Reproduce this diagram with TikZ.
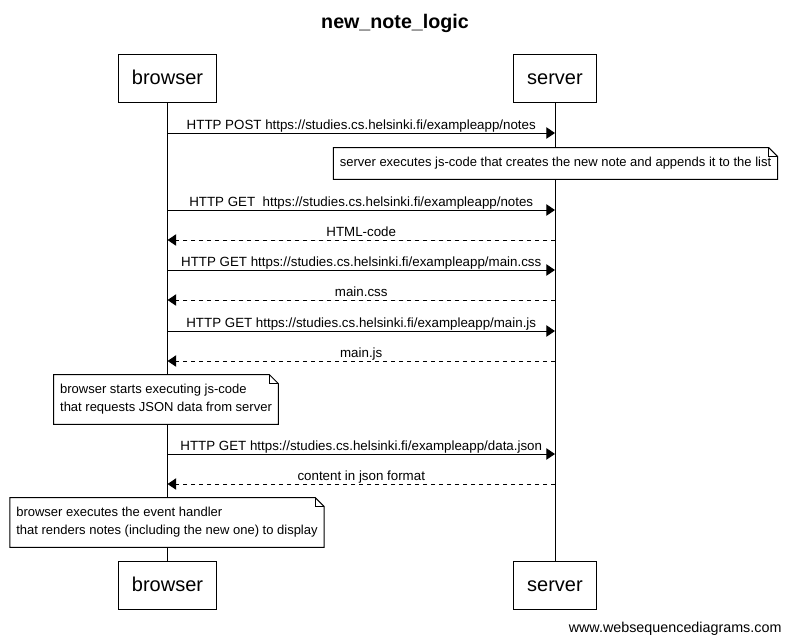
\documentclass[tikz,border=0pt]{standalone}
\usepackage{fontspec}
\setmainfont{Liberation Sans}
\usetikzlibrary{arrows.meta}

\newcommand{\foldnote}[1]{%
\draw (#1.north west) -- ([shift={(-9,0)}]#1.north east) -- ([shift={(0,9)}]#1.north east) -- (#1.south east) -- (#1.south west) -- cycle ;
\draw ([shift={(-9,0)}]#1.north east) |- ([shift={(0,9)}]#1.north east) ;}

\begin{document}
\begin{tikzpicture}[x=0.75pt,y=0.75pt,yscale=-1,xscale=1,line width=0.75pt,
  actor/.style={draw, fill=white, minimum height=36pt, inner xsep=10pt, text height=12pt, text depth=2pt, font=\fontsize{15}{18}\selectfont},
  msg/.style={-{Triangle[length=6.5pt,width=8.5pt]}},
  reply/.style={msg, dash pattern=on 3pt off 3pt},
  lbl/.style={anchor=south, inner xsep=0pt, inner ysep=2.6pt, text depth=0pt, font=\fontsize{10}{12}\selectfont},
  note/.style={fill=white, align=left, inner xsep=4.5pt, inner ysep=7pt, font=\fontsize{9.75}{13.5}\selectfont}]
\useasboundingbox (0,0) rectangle (790,643);

% Text Node
\node[font=\bfseries\fontsize{14.75}{17}\selectfont] (title) at (395,23) {new\_note\_logic};

%Actors
\node[actor] (browserTop) at (167.5,78) {browser};
\node[actor] (serverTop) at (555,78) {server};
\node[actor] (browserBot) at (167.5,585) {browser};
\node[actor] (serverBot) at (555,585) {server};

%Lifelines
\draw (browserTop) -- (browserBot) ;
\draw (serverTop) -- (serverBot) ;

%Message ends
\coordinate (b1) at (167.5,133); \coordinate (s1) at (555,133);
\coordinate (b2) at (167.5,210); \coordinate (s2) at (555,210);
\coordinate (b3) at (167.5,240); \coordinate (s3) at (555,240);
\coordinate (b4) at (167.5,270); \coordinate (s4) at (555,270);
\coordinate (b5) at (167.5,300); \coordinate (s5) at (555,300);
\coordinate (b6) at (167.5,331); \coordinate (s6) at (555,331);
\coordinate (b7) at (167.5,361); \coordinate (s7) at (555,361);
\coordinate (b8) at (167.5,454); \coordinate (s8) at (555,454);
\coordinate (b9) at (167.5,484); \coordinate (s9) at (555,484);

%Straight Lines
\draw[msg] (b1) -- node[lbl] {HTTP POST https://studies.cs.helsinki.fi/exampleapp/notes} (s1) ;

%Shape: Note
\node[note] (createNote) at (555.5,163.5) {server executes js-code that creates the new note and appends it to the list};
\foldnote{createNote}

%Straight Lines
\draw[msg] (b2) -- node[lbl] {HTTP GET\ \ https://studies.cs.helsinki.fi/exampleapp/notes} (s2) ;
\draw[reply] (s3) -- node[lbl] {HTML-code} (b3) ;
\draw[msg] (b4) -- node[lbl] {HTTP GET https://studies.cs.helsinki.fi/exampleapp/main.css} (s4) ;
\draw[reply] (s5) -- node[lbl] {main.css} (b5) ;
\draw[msg] (b6) -- node[lbl] {HTTP GET https://studies.cs.helsinki.fi/exampleapp/main.js} (s6) ;
\draw[reply] (s7) -- node[lbl] {main.js} (b7) ;

%Shape: Note
\node[note] (jsNote) at (166,399.5) {browser starts executing js-code\\that requests JSON data from server};
\foldnote{jsNote}

%Straight Lines
\draw[msg] (b8) -- node[lbl] {HTTP GET https://studies.cs.helsinki.fi/exampleapp/data.json} (s8) ;
\draw[reply] (s9) -- node[lbl] {content in json format} (b9) ;

%Shape: Note
\node[note] (renderNote) at (167,522.5) {browser executes the event handler\\that renders notes (including the new one) to display};
\foldnote{renderNote}

% Text Node
\node[anchor=east, inner sep=0pt, font=\fontsize{10.75}{12}\selectfont] (site) at (782,629) {www.websequencediagrams.com};

\end{tikzpicture}
\end{document}
